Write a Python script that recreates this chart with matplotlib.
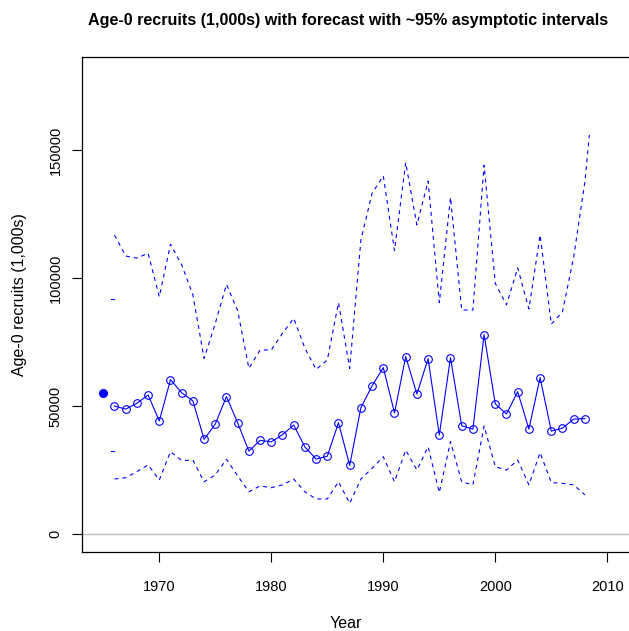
import numpy as np
import matplotlib
matplotlib.use('Agg')
import matplotlib.pyplot as plt

plt.rcParams['font.family'] = ['Liberation Sans', 'DejaVu Sans']

# observed / fitted recruits, 1966-2008
years = list(range(1966, 2009))
recruits = [50100, 48900, 51200, 54400, 44300, 60400, 55300, 52100, 37100, 43100,
            53800, 43500, 32500, 36700, 36100, 38900, 42700, 34100, 29400, 30500,
            43600, 26900, 49500, 58000, 65100, 47400, 69400, 54800, 68600, 38800,
            69000, 42400, 41100, 78000, 50900, 47000, 55700, 41100, 61200, 40300,
            41500, 45000, 45200]

# ~95% interval bounds
upper_years = years + [2008.4]
upper = [116900, 108700, 107900, 109800, 92800, 113300, 105200, 93500, 68700, 82400,
         97600, 87300, 64800, 72000, 72000, 78500, 84400, 72700, 64400, 68100,
         90500, 64800, 115000, 133200, 140000, 110800, 145200, 120800, 138000, 90500,
         131600, 87600, 87600, 144200, 98000, 89600, 104100, 88000, 116900, 82100,
         86900, 108400, 137700, 156000]
lower = [21600, 22100, 24500, 27100, 21200, 32300, 28800, 29000, 20500, 23200,
         29300, 22800, 16600, 18900, 18200, 19300, 21600, 16600, 13800, 13800,
         20500, 12100, 21600, 25800, 30300, 20500, 32900, 25100, 34200, 16300,
         36200, 20500, 19300, 42300, 26400, 25100, 29000, 19300, 31900, 20200,
         19900, 19300, 15400]

# starting value (1965) and the visible piece of its interval
start_year = [1965]
start_value = [55000]
start_int_x = [1965.7, 1966]
start_upper = [92000, 92000]
start_lower = [32500, 32500]

W, H = 629, 631
fig = plt.figure(figsize=(W / 100, H / 100), dpi=100)
left, right, top, bottom = 82.3, 645.0, 57.3, 552.3
ax = fig.add_axes([left / W, 1 - bottom / H, (right - left) / W, (bottom - top) / H])

blue = '#0000ff'
dash = (0, (3.6, 3.6))

ax.axhline(0, color='#bebebe', lw=1.0, zorder=1)
ax.plot(upper_years, upper, color=blue, lw=0.8, linestyle=dash)
ax.plot(years, lower, color=blue, lw=0.8, linestyle=dash)
ax.plot(start_int_x, start_upper, color=blue, lw=0.8)
ax.plot(start_int_x, start_lower, color=blue, lw=0.8)
ax.plot(years, recruits, color=blue, lw=0.8, marker='o', mfc='none', mec=blue,
        ms=5.5, mew=0.8)
ax.plot(start_year, start_value, 'o', color=blue, ms=5.5, zorder=5)

# x: 11.2 px per year, 1970 at px 159.3
px_per_year = 11.2
ax.set_xlim(1970 + (left - 159.3) / px_per_year, 1970 + (right - 159.3) / px_per_year)
# y: 128 px per 50000, 0 at px 534.3
px_per_unit = 128 / 50000
ax.set_ylim((534.3 - bottom) / px_per_unit, (534.3 - top) / px_per_unit)

ax.set_xticks([1970, 1980, 1990, 2000, 2010])
ax.set_yticks([0, 50000, 100000, 150000])
ax.set_yticklabels(['0', '50000', '100000', '150000'])
ax.tick_params(direction='out', length=7, width=0.8, labelsize=10.5, colors='black')
ax.tick_params(axis='x', pad=13)
ax.tick_params(axis='y', pad=7, labelrotation=90)
for t in ax.get_yticklabels():
    t.set_va('center')
for s in ax.spines.values():
    s.set_linewidth(0.9)

fig.text(348 / W, 1 - 21 / H, 'Age-0 recruits (1,000s) with forecast with ~95% asymptotic intervals',
         ha='center', va='center', fontsize=11.6, fontweight='bold')
fig.text(346 / W, 1 - 623 / H, 'Year', ha='center', va='center', fontsize=11.5)
fig.text(20 / W, 1 - 295 / H, 'Age-0 recruits (1,000s)', ha='center', va='center',
         rotation=90, fontsize=11.5)

fig.savefig('out.png', dpi=100)
